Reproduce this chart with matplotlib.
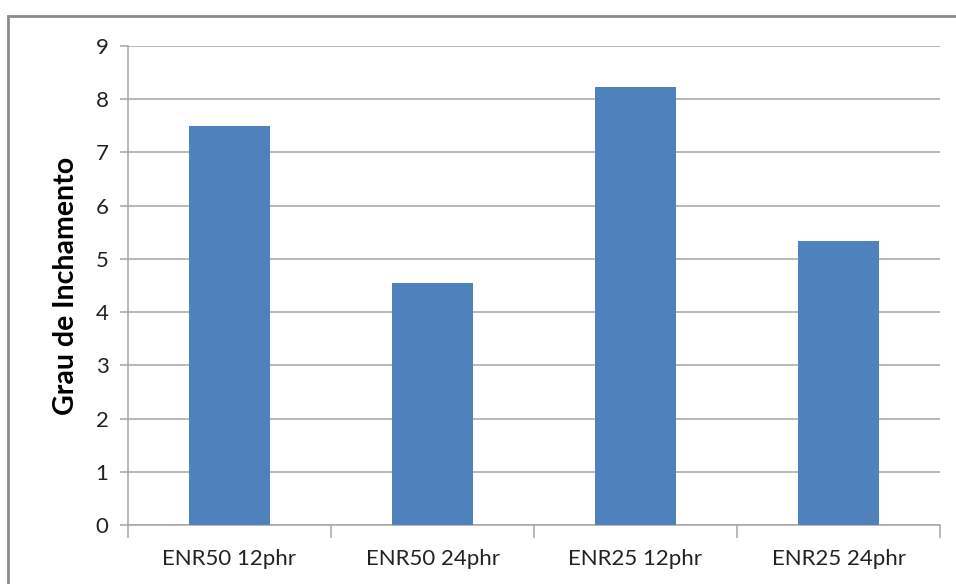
import matplotlib
matplotlib.use("Agg")
import matplotlib.pyplot as plt
from matplotlib.patches import Rectangle
import numpy as np

categories = ["ENR50 12phr", "ENR50 24phr", "ENR25 12phr", "ENR25 24phr"]
values = [7.5, 4.55, 8.23, 5.33]
yticks = [0, 1, 2, 3, 4, 5, 6, 7, 8, 9]

plt.rcParams['font.family'] = ['Lato', 'DejaVu Sans']

W, H = 956, 584
fig = plt.figure(figsize=(W / 100, H / 100), dpi=100)

# outer chart frame
fig.patches.append(Rectangle((8 / W, -0.1), 1.2, 1 - 16 / H + 0.1,
                             transform=fig.transFigure, fill=False,
                             edgecolor="#8c8c8c", linewidth=2))

ax = fig.add_axes([128 / W, 1 - 525 / H, (940 - 128) / W, (525 - 46) / H])
x = np.arange(len(categories))
ax.bar(x, values, width=0.4, color="#4F81BD", zorder=3)

ax.set_xlim(-0.5, len(categories) - 0.5)
ax.set_ylim(0, 9)
ax.set_yticks(yticks)
ax.set_yticklabels([str(v) for v in yticks], fontsize=16, color="#222222")
ax.yaxis.grid(True, color="#a6a6a6", linewidth=1.1, zorder=0)
ax.tick_params(axis="y", length=6, color="#a6a6a6", width=1.1, pad=8)

ax.set_xticks(x)
ax.set_xticklabels(categories, fontsize=16, color="#222222")
ax.tick_params(axis="x", which="major", length=0, pad=17)
ax.set_xticks(np.arange(-0.5, len(categories), 1.0), minor=True)
ax.tick_params(axis="x", which="minor", length=9, color="#a6a6a6", width=1.1)

for side in ("top", "right"):
    ax.spines[side].set_visible(False)
for side in ("left", "bottom"):
    ax.spines[side].set_color("#a6a6a6")
    ax.spines[side].set_linewidth(1.1)

ax.set_ylabel("Grau de Inchamento", fontsize=20.5, fontweight="bold", labelpad=12)

fig.savefig("out.png", dpi=100, facecolor="white")
